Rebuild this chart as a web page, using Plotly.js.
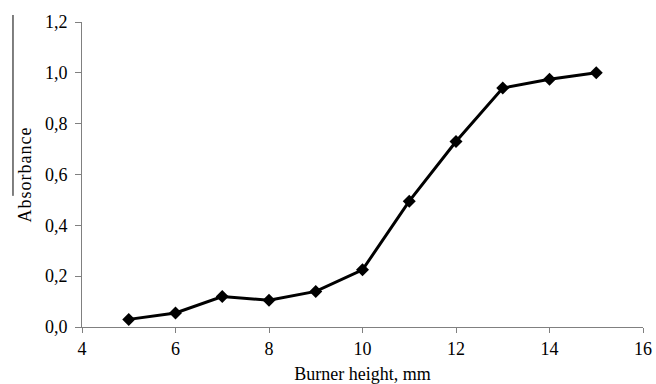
<!DOCTYPE html>
<html>
<head>
<meta charset="utf-8">
<script src="https://cdn.plot.ly/plotly-3.0.1.min.js"></script>
<style>
html,body{margin:0;padding:0;background:#fff;}
#chart{width:656px;height:384px;}
.ytitle{letter-spacing:1px;}
</style>
</head>
<body>
<div id="chart"></div>
<script>
const burnerHeight = [5, 6, 7, 8, 9, 10, 11, 12, 13, 14, 15];
const absorbance = [0.03, 0.055, 0.12, 0.105, 0.14, 0.225, 0.495, 0.73, 0.94, 0.975, 1.0];
const yTickVals = [0, 0.2, 0.4, 0.6, 0.8, 1.0, 1.2];
const yTickText = ['0,0', '0,2', '0,4', '0,6', '0,8', '1,0', '1,2'];
const xTickVals = [4, 6, 8, 10, 12, 14, 16];

const fam = 'Liberation Serif, Times New Roman, serif';
const tickFont = {family: fam, size: 18, color: '#000'};

Plotly.newPlot('chart', [{
  x: burnerHeight,
  y: absorbance,
  type: 'scatter',
  mode: 'lines+markers',
  line: {color: '#000', width: 3},
  marker: {symbol: 'diamond', size: 10, color: '#000'},
  showlegend: false,
  cliponaxis: false
}], {
  width: 656, height: 384,
  margin: {l: 82, r: 13, t: 22, b: 57},
  paper_bgcolor: '#fff', plot_bgcolor: '#fff',
  font: tickFont,
  xaxis: {
    range: [4, 16], tickvals: xTickVals, ticktext: xTickVals.map(String),
    showgrid: false, zeroline: false, showline: true, linecolor: '#808080', linewidth: 1,
    ticks: 'outside', ticklen: 5, tickcolor: '#808080',
    tickfont: tickFont,
    title: {text: 'Burner height, mm', font: {family: fam, size: 18, color: '#000'}, standoff: 15}
  },
  yaxis: {
    range: [0, 1.2], tickvals: yTickVals, ticktext: yTickText,
    showgrid: false, zeroline: false, showline: true, linecolor: '#808080', linewidth: 1,
    ticks: 'outside', ticklen: 6, tickcolor: '#808080', ticklabelstandoff: 4,
    tickfont: tickFont,
    title: {text: 'Absorbance', font: {family: fam, size: 18, color: '#000'}, standoff: 8}
  },
  shapes: [{
    type: 'line', xref: 'paper', yref: 'paper',
    x0: -0.123, x1: -0.123, y0: 1.023, y1: 0.43,
    line: {color: '#000', width: 1}
  }]
}, {staticPlot: true});
</script>
</body>
</html>
